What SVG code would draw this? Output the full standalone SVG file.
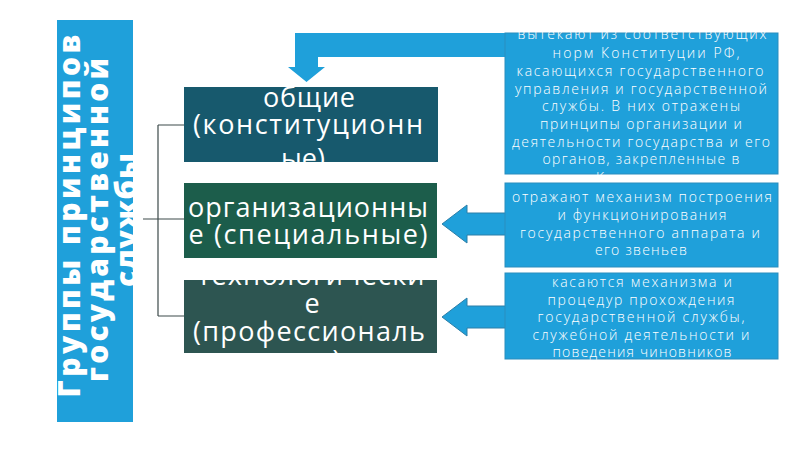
<svg xmlns="http://www.w3.org/2000/svg" width="800" height="449" viewBox="0 0 800 449">
<style>
.bg{fill:#ffffff}
.blue{fill:#1FA0DA}
.bbox{fill:#1FA0DA;stroke:#2A8DBE;stroke-width:1}
.arr{fill:#1FA0DA;stroke:#2C7FA8;stroke-width:1}
.conn{fill:none;stroke:#3C4A4A;stroke-width:1.2}
.title{font-family:"Open Sans","DejaVu Sans",sans-serif;font-weight:800;font-size:30px;fill:#ffffff}
.big{font-family:"Open Sans","DejaVu Sans",sans-serif;font-size:27px;fill:#ffffff;text-anchor:middle}
.small{font-family:"Open Sans","DejaVu Sans",sans-serif;font-weight:300;font-size:14px;fill:#ffffff;text-anchor:middle}
</style>
<rect class="bg" x="0" y="0" width="800" height="449"/>

<g id="title">
<rect class="blue" x="57" y="20" width="76" height="402"/>
<text class="title" text-anchor="middle" transform="translate(80,216) rotate(-90)" textLength="363" lengthAdjust="spacing">Группы принципов</text>
<text class="title" text-anchor="middle" transform="translate(108,220) rotate(-90)" textLength="324" lengthAdjust="spacing">государственной</text>
<text class="title" text-anchor="middle" transform="translate(137,220) rotate(-90)" textLength="134" lengthAdjust="spacing">службы</text>
</g>

<g id="connectors">
<path class="conn" d="M158,125 V316 M158,125 H184 M158,316 H184 M143,219 H184"/>
<polygon class="blue" points="506,33 295,33 295,67 288,67 306.5,82 325,67 318,67 318,57 506,57"/>
<polygon class="arr" points="506,213 467,213 467,205 442,224 467,243 467,235 506,235"/>
<polygon class="arr" points="506,306 467,306 467,298 442,317 467,336 467,328 506,328"/>
</g>

<g id="node-general">
<rect x="184" y="87" width="254" height="75" fill="#17596D"/>
<text class="big" x="309" y="107" textLength="92" lengthAdjust="spacing">общие</text>
<text class="big" x="308" y="134" textLength="230" lengthAdjust="spacing">(конституционн</text>
<text class="big" x="303" y="168">ые)</text>
</g>

<g id="node-organizational">
<rect x="184" y="183" width="253" height="75" fill="#1C5D4B"/>
<text class="big" x="308" y="217" textLength="240" lengthAdjust="spacing">организационны</text>
<text class="big" x="308" y="244" textLength="239" lengthAdjust="spacing">е (специальные)</text>
</g>

<g id="node-technological">
<rect x="184" y="280" width="253" height="73" fill="#2D5551"/>
<text class="big" x="311" y="285" textLength="227" lengthAdjust="spacing">технологически</text>
<text class="big" x="312" y="313">е</text>
<text class="big" x="309" y="341" textLength="232" lengthAdjust="spacing">(профессиональ</text>
<text class="big" x="310" y="370">ные)</text>
</g>

<g id="desc-general">
<rect class="bbox" x="505" y="33" width="273" height="141"/>
<text class="small" x="642" y="39" textLength="249" lengthAdjust="spacing">вытекают из соответствующих</text>
<text class="small" x="646" y="58" textLength="187" lengthAdjust="spacing">норм Конституции РФ,</text>
<text class="small" x="640" y="76" textLength="247" lengthAdjust="spacing">касающихся государственного</text>
<text class="small" x="641" y="93.5" textLength="252" lengthAdjust="spacing">управления и государственной</text>
<text class="small" x="641" y="111" textLength="198" lengthAdjust="spacing">службы. В них отражены</text>
<text class="small" x="641" y="129" textLength="202" lengthAdjust="spacing">принципы организации и</text>
<text class="small" x="641" y="146.5" textLength="258" lengthAdjust="spacing">деятельности государства и его</text>
<text class="small" x="641" y="164" textLength="197" lengthAdjust="spacing">органов, закрепленные в</text>
<text class="small" x="641" y="183" textLength="90" lengthAdjust="spacing">Конституции</text>
</g>

<g id="desc-organizational">
<rect class="bbox" x="505" y="183" width="273" height="84"/>
<text class="small" x="642" y="202" textLength="260" lengthAdjust="spacing">отражают механизм построения</text>
<text class="small" x="642" y="220" textLength="169" lengthAdjust="spacing">и функционирования</text>
<text class="small" x="640" y="237.5" textLength="240" lengthAdjust="spacing">государственного аппарата и</text>
<text class="small" x="641" y="255" textLength="92" lengthAdjust="spacing">его звеньев</text>
</g>

<g id="desc-technological">
<rect class="bbox" x="505" y="273" width="273" height="86"/>
<text class="small" x="642" y="287" textLength="180" lengthAdjust="spacing">касаются механизма и</text>
<text class="small" x="641" y="304.5" textLength="187" lengthAdjust="spacing">процедур прохождения</text>
<text class="small" x="641" y="322" textLength="207" lengthAdjust="spacing">государственной службы,</text>
<text class="small" x="641" y="339.5" textLength="217" lengthAdjust="spacing">служебной деятельности и</text>
<text class="small" x="642" y="357" textLength="179" lengthAdjust="spacing">поведения чиновников</text>
</g>
</svg>
